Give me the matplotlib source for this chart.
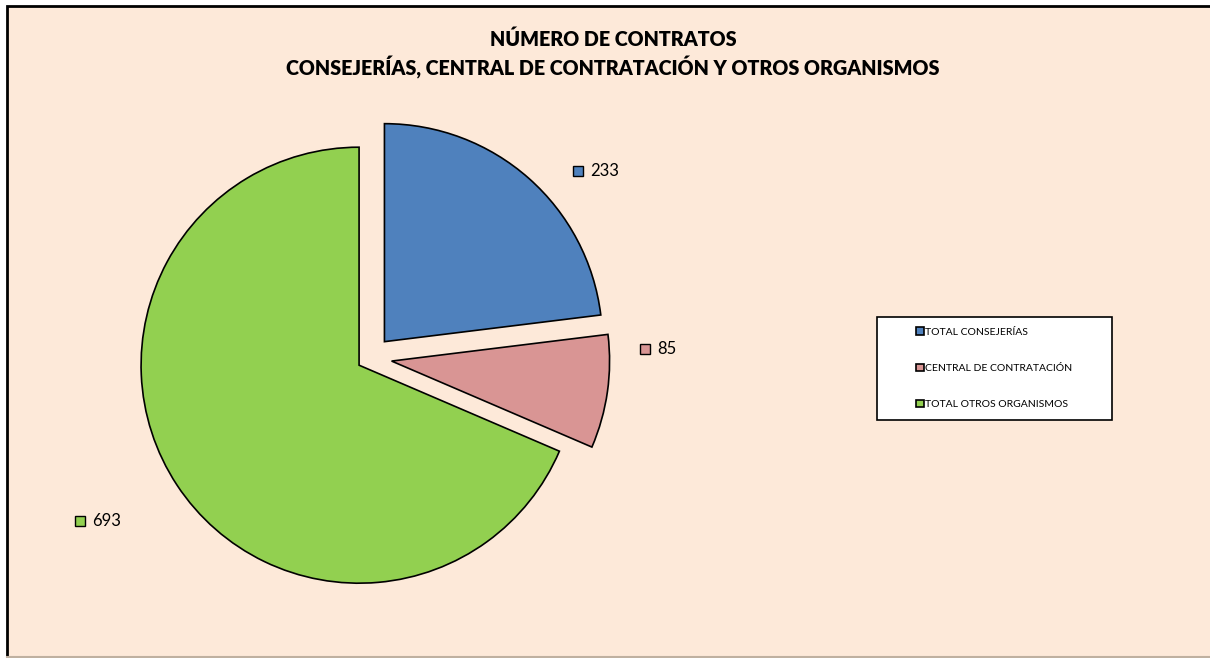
import numpy as np
import matplotlib.pyplot as plt
from matplotlib.patches import Rectangle

# data
categories = ["TOTAL CONSEJERÍAS", "CENTRAL DE CONTRATACIÓN", "TOTAL OTROS ORGANISMOS"]
contratos = [233, 85, 693]
colores = ["#4F81BD", "#D99594", "#92D050"]

titulo = "NÚMERO DE CONTRATOS\nCONSEJERÍAS, CENTRAL DE CONTRATACIÓN Y OTROS ORGANISMOS"

# layout (pixel units, y up)
W, H = 1210, 658
centro = (370, 300)
radio = 218
explode = [0.1 * radio, 0.1 * radio, 0.06 * radio]
label_pos = [(578, 487), (645, 309), (80, 137)]

plt.rcParams['font.family'] = ['Lato', 'DejaVu Sans']

fig = plt.figure(figsize=(W / 100, H / 100), dpi=100, facecolor="white")
ax = fig.add_axes([0, 0, 1, 1])

# chart area background + border (left/top dark, bottom faint)
ax.add_patch(Rectangle((7, 1), W, 651, facecolor="#FDE9D9",
                       edgecolor="none", zorder=0))
ax.plot([7, 7, W], [0, 652, 652], color="black", linewidth=2.0,
        solid_joinstyle="miter", zorder=1)
ax.plot([7, W], [0.8, 0.8], color="#BFB0A0", linewidth=1.5, zorder=1)

wedges, _ = ax.pie(contratos, colors=colores, explode=explode, center=centro,
                   radius=radio, startangle=90, counterclock=False,
                   wedgeprops=dict(edgecolor="black", linewidth=1.2),
                   frame=True)
ax.set_xlim(0, W)
ax.set_ylim(0, H)
ax.set_aspect("equal")
ax.axis("off")

# data labels with small colour key
for (x, y), v, c in zip(label_pos, contratos, colores):
    ax.plot(x, y, marker="s", markersize=6.5, markerfacecolor=c,
            markeredgecolor="black", markeredgewidth=1.0, zorder=5)
    ax.text(x + 12, y, str(v), fontsize=12, va="center", ha="left", zorder=5)

ax.text(613, 604, titulo, fontsize=14.2, fontweight="heavy", ha="center",
        va="center", linespacing=1.35)

# legend box
ax.add_patch(Rectangle((877, 238), 235, 103, facecolor="white",
                       edgecolor="black", linewidth=1.2, zorder=3))
leg = ax.legend(wedges, categories, loc="upper left",
                bbox_to_anchor=(908 / W, 339 / H), frameon=False,
                fontsize=7.5, handlelength=0.7, handleheight=0.7,
                handletextpad=0.1, labelspacing=2.6, borderpad=0.3)
leg.set_zorder(4)

fig.savefig("out.png", dpi=100, facecolor=fig.get_facecolor())
